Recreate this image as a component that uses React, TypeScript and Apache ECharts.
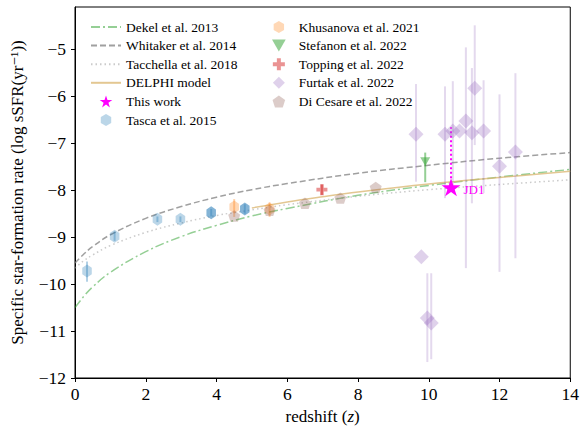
import React, { useEffect, useRef } from "react";
import * as echarts from "echarts";

// ---- model curves ----
const curveZ = [0, 0.25, 0.5, 1, 2, 3, 4, 5, 6, 8, 10, 12, 14];
const dekelY = [-10.5, -10.26, -10.06, -9.75, -9.31, -8.99, -8.75, -8.55, -8.39, -8.11, -7.9, -7.72, -7.56];
const whitakerY = [-9.55, -9.36, -9.2, -8.95, -8.6, -8.35, -8.15, -7.99, -7.86, -7.64, -7.47, -7.32, -7.2];
const tacchellaY = [-9.66, -9.5, -9.38, -9.18, -8.9, -8.7, -8.54, -8.42, -8.31, -8.13, -7.99, -7.88, -7.78];
const delphiZ = [5, 6, 7, 8, 10, 12, 14];
const delphiY = [-8.38, -8.25, -8.14, -8.04, -7.87, -7.73, -7.6];

// ---- observations ----
const thisZ = [10.63];
const thisY = [-7.94];
const thisLo = [-7.94];
const thisHi = [-6.66];

const tascaZ = [0.34, 1.12, 2.33, 2.98, 3.85, 4.8];
const tascaY = [-9.72, -8.98, -8.62, -8.62, -8.48, -8.4];
const tascaLo = [-9.95, -9.08, -8.68, -8.68, -8.56, -8.5];
const tascaHi = [-9.52, -8.88, -8.56, -8.56, -8.4, -8.3];

const khusZ = [4.5, 5.5];
const khusY = [-8.36, -8.4];
const khusLo = [-8.57, -8.57];
const khusHi = [-8.19, -8.26];

const stefZ = [9.9];
const stefY = [-7.39];
const stefLo = [-7.83];
const stefHi = [-7.2];

const toppZ = [6.98];
const toppY = [-7.99];
const toppLo = [-8.1];
const toppHi = [-7.88];

const furtakZ = [9.64, 10.46, 10.68, 10.87, 11.05, 11.22, 11.3, 11.55, 12.0, 12.45, 9.79, 9.96, 10.07];
const furtakY = [-6.81, -6.81, -6.74, -6.74, -6.53, -6.78, -5.83, -6.74, -7.49, -7.19, -9.42, -10.72, -10.83];
const furtakLo = [-7.82, -8.17, -7.9, -6.74, -9.66, -8.28, -7.04, -8.06, -9.74, -9.45, -9.42, -11.66, -11.6];
const furtakHi = [-5.74, -5.79, -5.68, -6.74, -4.96, -5.4, -4.49, -5.66, -5.96, -5.51, -9.42, -9.77, -9.77];

const dicesZ = [4.5, 5.5, 6.5, 7.5, 8.5];
const dicesY = [-8.55, -8.43, -8.28, -8.17, -7.94];

const legendLeft = ["Dekel et al. 2013", "Whitaker et al. 2014", "Tacchella et al. 2018", "DELPHI model", "This work", "Tasca et al. 2015"];
const legendRight = ["Khusanova et al. 2021", "Stefanon et al. 2022", "Topping et al. 2022", "Furtak et al. 2022", "Di Cesare et al. 2022"];
const curveNames = ["Dekel et al. 2013", "Whitaker et al. 2014", "Tacchella et al. 2018", "DELPHI model"];

const FONT = "'Liberation Serif', 'DejaVu Serif', serif";

const HEX = "path://M0,-1 L0.866,-0.5 L0.866,0.5 L0,1 L-0.866,0.5 L-0.866,-0.5 Z";
const PENT = "path://M0,-1 L0.951,-0.309 L0.588,0.809 L-0.588,0.809 L-0.951,-0.309 Z";
const STAR =
  "path://M0,-1 L0.2245,-0.309 L0.951,-0.309 L0.363,0.118 L0.588,0.809 L0,0.382 L-0.588,0.809 L-0.363,0.118 L-0.951,-0.309 L-0.2245,-0.309 Z";
const PLUS =
  "path://M-0.33,-1 L0.33,-1 L0.33,-0.33 L1,-0.33 L1,0.33 L0.33,0.33 L0.33,1 L-0.33,1 L-0.33,0.33 L-1,0.33 L-1,-0.33 L-0.33,-0.33 Z";
const DIAM = "path://M0,-1 L1,0 L0,1 L-1,0 Z";
const TRIDOWN = "path://M-1,-0.85 L1,-0.85 L0,0.9 Z";

function pairs(xs: number[], ys: number[]) {
  return xs.map((x, i) => [x, ys[i]]);
}

function errSeries(
  id: string,
  xs: number[],
  los: number[],
  his: number[],
  color: string,
  opacity: number,
  dash?: number[]
) {
  return {
    type: "custom",
    name: id,
    silent: true,
    clip: true,
    z: 3,
    data: xs.map((x, i) => [x, los[i], his[i]]),
    renderItem: (params: any, api: any) => {
      const p1 = api.coord([api.value(0), api.value(1)]);
      const p2 = api.coord([api.value(0), api.value(2)]);
      return {
        type: "line",
        shape: { x1: p1[0], y1: p1[1], x2: p2[0], y2: p2[1] },
        style: { stroke: color, lineWidth: 2, opacity, lineDash: dash || null, fill: null },
      };
    },
  };
}

function scatter(name: string, data: any[], symbol: string, size: number | number[], color: string, opacity: number) {
  return {
    type: "scatter",
    name,
    data,
    symbol,
    symbolSize: size,
    symbolKeepAspect: true,
    itemStyle: { color, opacity },
    z: 4,
  };
}

function curve(name: string, xs: number[], ys: number[], color: string, type: any, width: number) {
  return {
    type: "line",
    name,
    data: pairs(xs, ys),
    smooth: 0.4,
    symbol: "none",
    showSymbol: false,
    lineStyle: { color, type, width },
    itemStyle: { color },
    z: 2,
  };
}

function legendData(names: string[]) {
  return names.map((n) =>
    curveNames.includes(n) ? { name: n, itemStyle: { opacity: 0, color: "transparent", borderWidth: 0 } } : { name: n }
  );
}

export default function App() {
  const ref = useRef<HTMLDivElement>(null);
  useEffect(() => {
    if (!ref.current) return;
    const chart = echarts.init(ref.current, undefined, { renderer: "svg" });
    const tascaDark = [4, 5];
    const legendBase = {
      top: 15,
      orient: "vertical",
      itemWidth: 30,
      itemHeight: 12,
      itemGap: 4.6,
      selectedMode: false,
      textStyle: { fontFamily: FONT, fontSize: 13.5, color: "#000" },
    };
    const option: any = {
      animation: false,
      backgroundColor: "#fff",
      grid: { left: 75, right: 9, top: 7, bottom: 52, show: true, borderColor: "#000", borderWidth: 1, backgroundColor: "transparent" },
      xAxis: {
        type: "value",
        min: 0,
        max: 14,
        interval: 2,
        name: "redshift ({i|z})",
        nameLocation: "middle",
        nameGap: 24,
        nameTextStyle: {
          fontFamily: FONT,
          fontSize: 17,
          color: "#000",
          rich: { i: { fontFamily: FONT, fontSize: 17, fontStyle: "italic", color: "#000" } },
        },
        axisLine: { show: true, onZero: false, lineStyle: { color: "#000", width: 1 } },
        axisTick: { show: true, length: 4, lineStyle: { color: "#000" } },
        axisLabel: { fontFamily: FONT, fontSize: 17.5, color: "#000", margin: 7 },
        splitLine: { show: false },
      },
      yAxis: {
        type: "value",
        min: -12,
        max: -4.1,
        interval: 1,
        name: "Specific star-formation rate (log sSFR(yr\u207B\u00B9))",
        nameLocation: "middle",
        nameGap: 49,
        nameTextStyle: { fontFamily: FONT, fontSize: 17, color: "#000" },
        axisLine: { show: true, onZero: false, lineStyle: { color: "#000", width: 1 } },
        axisTick: { show: true, length: 4, lineStyle: { color: "#000" } },
        axisLabel: {
          fontFamily: FONT,
          fontSize: 17.5,
          color: "#000",
          margin: 9,
          showMaxLabel: false,
          formatter: (v: number) => (v < 0 ? "\u2212" + Math.abs(v) : String(v)),
        },
        splitLine: { show: false },
      },
      legend: [
        { ...legendBase, left: 85, data: legendData(legendLeft) },
        { ...legendBase, left: 267, data: legendData(legendRight) },
      ],
      series: [
        curve("Dekel et al. 2013", curveZ, dekelY, "rgba(44,160,44,0.5)", [9, 3, 2, 3], 1.5),
        curve("Whitaker et al. 2014", curveZ, whitakerY, "rgba(128,128,128,0.75)", [6, 3], 1.5),
        curve("Tacchella et al. 2018", curveZ, tacchellaY, "rgba(160,160,160,0.55)", [1.5, 3], 1.5),
        curve("DELPHI model", delphiZ, delphiY, "rgba(218,180,110,0.75)", "solid", 1.5),

        errSeries("tasca-err", tascaZ, tascaLo, tascaHi, "#1f77b4", 0.35),
        scatter(
          "Tasca et al. 2015",
          tascaZ.map((x, i) => ({ value: [x, tascaY[i]], itemStyle: { opacity: tascaDark.includes(i) ? 0.55 : 0.3 } })),
          HEX,
          [11, 13],
          "#1f77b4",
          0.3
        ),
        errSeries("khus-err", khusZ, khusLo, khusHi, "#ff7f0e", 0.35),
        scatter("Khusanova et al. 2021", pairs(khusZ, khusY), HEX, [11, 13], "#ff7f0e", 0.3),
        errSeries("stef-err", stefZ, stefLo, stefHi, "#2ca02c", 0.5),
        scatter("Stefanon et al. 2022", pairs(stefZ, stefY), TRIDOWN, [10, 10], "#2ca02c", 0.5),
        errSeries("topp-err", toppZ, toppLo, toppHi, "#d62728", 0.5),
        scatter("Topping et al. 2022", pairs(toppZ, toppY), PLUS, [11, 11], "#d62728", 0.5),
        errSeries("furtak-err", furtakZ, furtakLo, furtakHi, "#9467bd", 0.25),
        scatter("Furtak et al. 2022", pairs(furtakZ, furtakY), DIAM, [15, 15], "#9467bd", 0.3),
        scatter("Di Cesare et al. 2022", pairs(dicesZ, dicesY), PENT, [12, 12], "#8c564b", 0.3),

        errSeries("this-err", thisZ, thisLo, thisHi, "#ff00ff", 1, [2, 2.5]),
        {
          ...scatter("This work", pairs(thisZ, thisY), STAR, [19, 19], "#ff00ff", 1),
          z: 5,
          label: {
            show: true,
            position: "right",
            distance: 3,
            formatter: "JD1",
            color: "#ff00ff",
            fontFamily: FONT,
            fontSize: 13,
            offset: [0, 2],
          },
        },
      ],
    };
    chart.setOption(option);
    return () => chart.dispose();
  }, []);
  return <div ref={ref} style={{ position: "absolute", left: 0, top: 0, width: 582, height: 430 }} />;
}
